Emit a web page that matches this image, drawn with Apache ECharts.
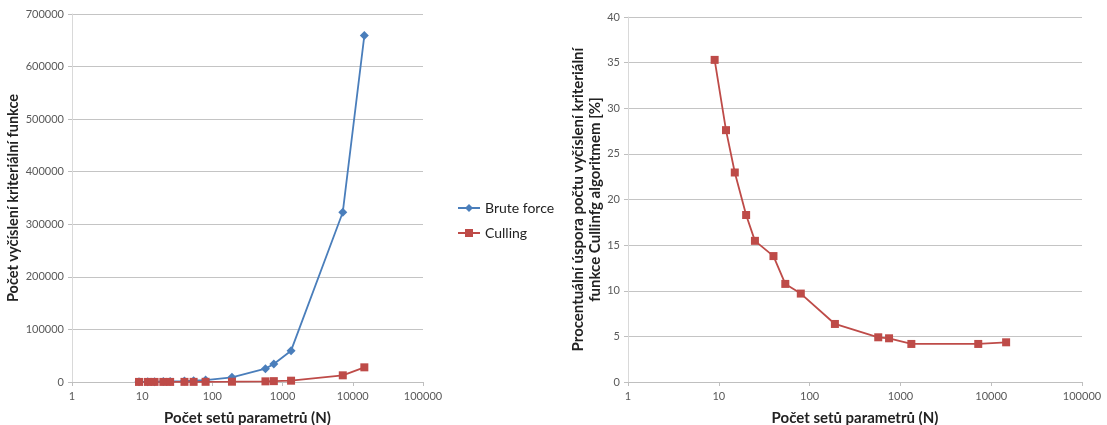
<!DOCTYPE html>
<html><head><meta charset="utf-8">
<script src="https://cdn.jsdelivr.net/npm/echarts@6/dist/echarts.min.js"></script>
<style>html,body{margin:0;padding:0;background:#fff}#c{width:1107px;height:425px}</style>
</head><body><div id="c"></div>
<script>
// N (number of parameter sets)
const nValues = [9, 12, 15, 20, 25, 40, 54, 80, 190, 570, 750, 1320, 7200, 14600];
// Left chart: number of criterion function evaluations
const bruteForce = [405, 540, 675, 900, 1125, 1800, 2430, 3600, 8900, 25400, 34200, 59600, 323000, 659000];
const culling = [143, 149, 155, 165, 174, 248, 261, 349, 566, 1240, 1640, 2490, 12700, 27900];
// Right chart: percentage [%]
const percent = [35.3, 27.6, 22.96, 18.3, 15.47, 13.8, 10.75, 9.69, 6.36, 4.9, 4.79, 4.17, 4.17, 4.35];
const leftYTicks = [0, 100000, 700000];
const rightYTicks = [0, 5, 40];

const FONT = 'Lato, "Open Sans", sans-serif';
const BLUE = '#4A7EBB', RED = '#BE4B48';
const pairs = (xs, ys) => xs.map((x, i) => [x, ys[i]]);
const plain = v => String(Math.round(v * 1000) / 1000);

function xAxis(grid) {
  return {
    type: 'log', logBase: 10, min: 1, max: 100000, gridIndex: grid,
    name: 'Počet setů parametrů (N)', nameLocation: 'middle', nameGap: 29,
    nameTextStyle: { fontFamily: FONT, fontSize: 15, fontWeight: 'bold', color: '#222' },
    axisLine: { lineStyle: { color: '#BFBFBF' } },
    axisTick: { show: true, length: 4, lineStyle: { color: '#BFBFBF' } },
    minorTick: { show: false },
    axisLabel: { fontFamily: FONT, fontSize: 11, color: '#595959', margin: 9, formatter: plain },
    splitLine: { show: false }
  };
}
function yAxis(grid, t, name, gap, size) {
  return {
    type: 'value', gridIndex: grid, min: t[0], max: t[2], interval: t[1],
    name: name, nameLocation: 'middle', nameGap: gap,
    nameTextStyle: { fontFamily: FONT, fontSize: size, fontWeight: 'bold', color: '#222', lineHeight: 17 },
    axisLine: { show: true, lineStyle: { color: '#D9D9D9' } },
    axisTick: { show: true, length: 4, lineStyle: { color: '#BFBFBF' } },
    axisLabel: { fontFamily: FONT, fontSize: 11, color: '#595959', margin: 8, formatter: plain },
    splitLine: { show: true, lineStyle: { color: '#C4C4C4', width: 1 } }
  };
}

const chart = echarts.init(document.getElementById('c'), null, { renderer: 'canvas' });
chart.setOption({
  animation: false,
  backgroundColor: '#fff',
  grid: [
    { left: 72, right: 684, top: 14, bottom: 43, outerBoundsMode: 'none', containLabel: false },
    { left: 628, right: 25, top: 17, bottom: 43, outerBoundsMode: 'none', containLabel: false }
  ],
  legend: {
    data: ['Brute force', 'Culling'], orient: 'vertical', left: 452, top: 196,
    itemWidth: 22, itemHeight: 10, itemGap: 11,
    textStyle: { fontFamily: FONT, fontSize: 14, color: '#222' }
  },
  xAxis: [xAxis(0), xAxis(1)],
  yAxis: [
    yAxis(0, leftYTicks, 'Počet vyčíslení kriteriální funkce', 45, 14.5),
    yAxis(1, rightYTicks, 'Procentuální úspora počtu vyčíslení kriteriální\nfunkce Cullinfg algoritmem [%]', 24, 15)
  ],
  series: [
    { name: 'Brute force', type: 'line', xAxisIndex: 0, yAxisIndex: 0, data: pairs(nValues, bruteForce),
      symbol: 'diamond', symbolSize: 9, lineStyle: { color: BLUE, width: 1.8 }, itemStyle: { color: BLUE } },
    { name: 'Culling', type: 'line', xAxisIndex: 0, yAxisIndex: 0, data: pairs(nValues, culling),
      symbol: 'rect', symbolSize: 8, lineStyle: { color: RED, width: 1.8 }, itemStyle: { color: RED } },
    { name: 'Procenta', type: 'line', xAxisIndex: 1, yAxisIndex: 1, data: pairs(nValues, percent),
      symbol: 'rect', symbolSize: 8, lineStyle: { color: RED, width: 1.8 }, itemStyle: { color: RED } }
  ]
});
</script></body></html>
